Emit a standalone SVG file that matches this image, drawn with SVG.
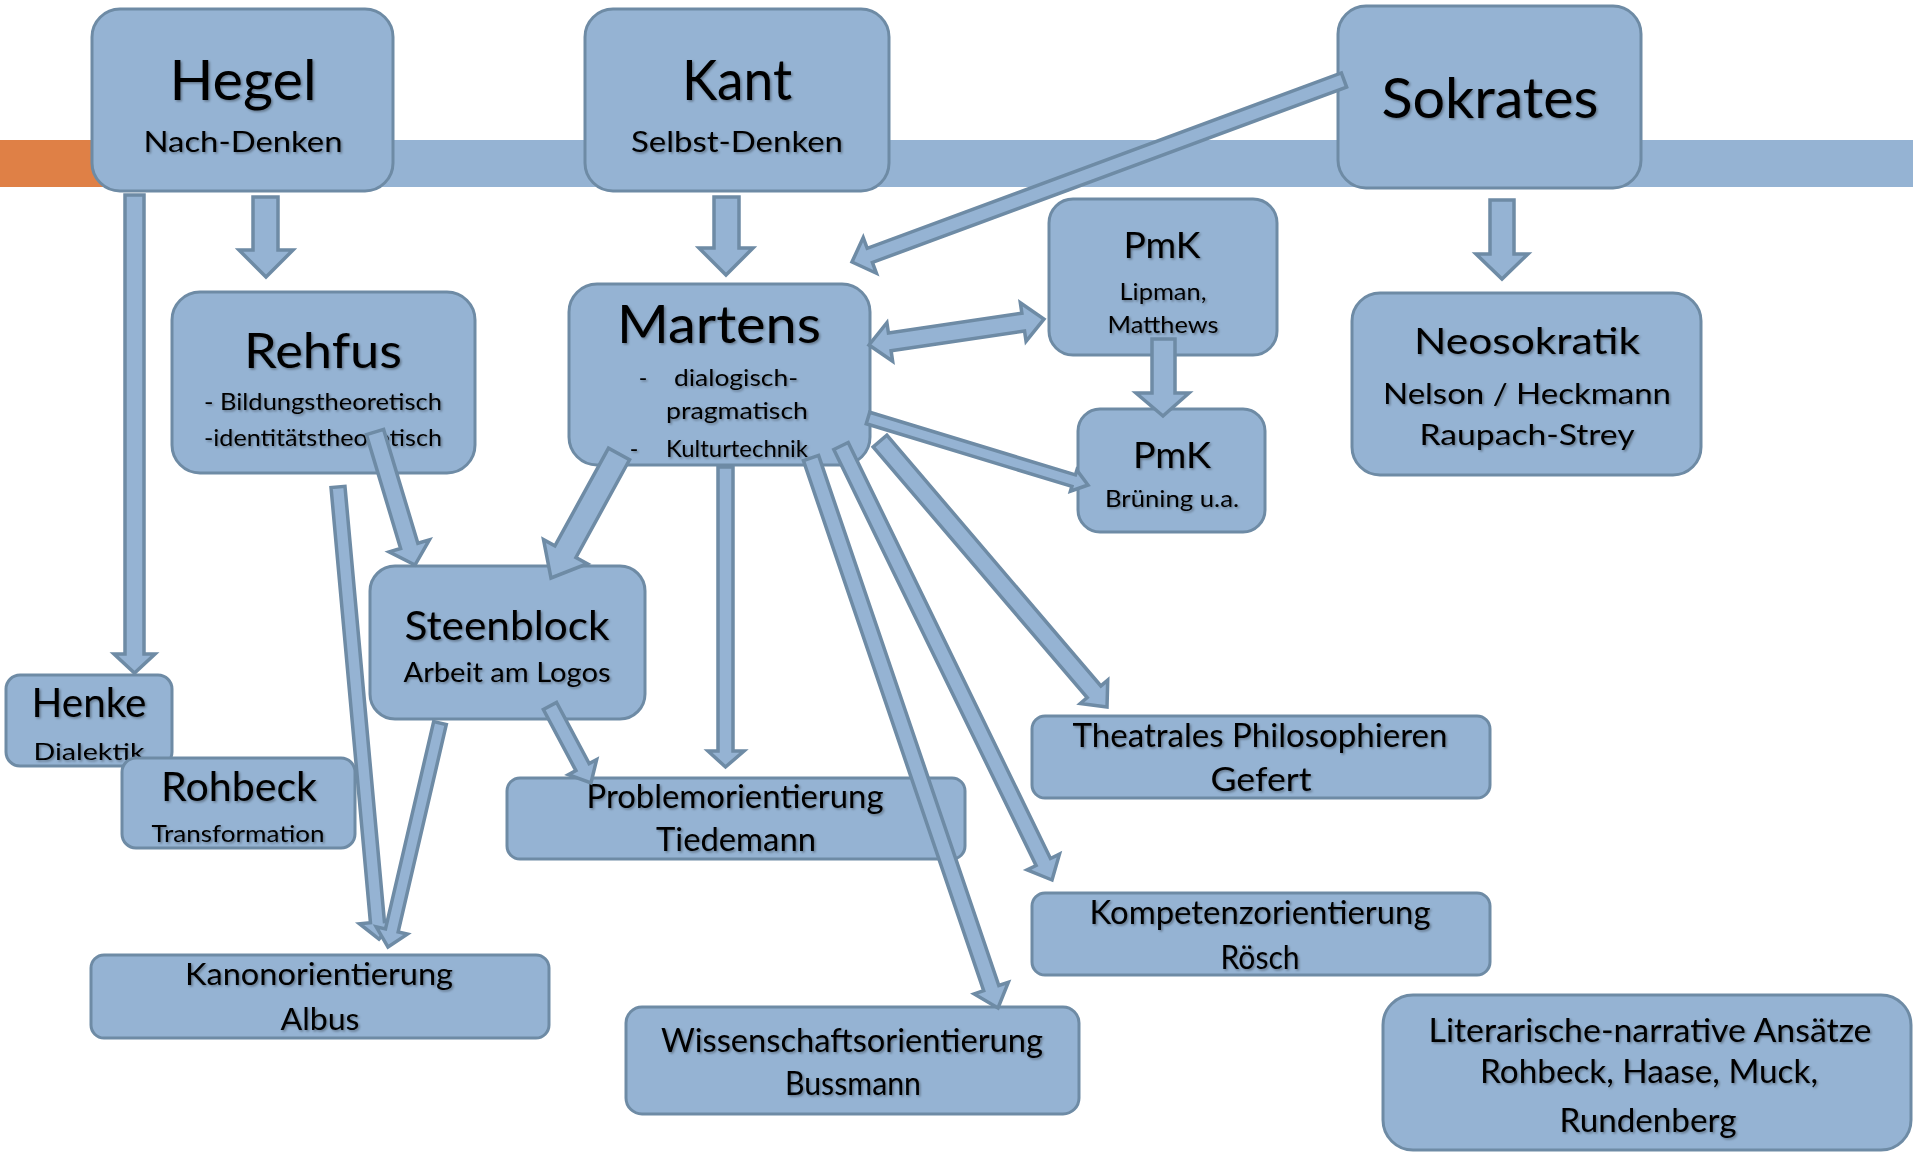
<svg xmlns="http://www.w3.org/2000/svg" width="1913" height="1152" viewBox="0 0 1913 1152">
<defs>
<filter id="ts" x="-10%" y="-30%" width="120%" height="160%">
<feDropShadow dx="1.5" dy="1.5" stdDeviation="0.8" flood-color="#000" flood-opacity="0.35"/>
</filter>
<style>
.box{fill:#95B3D3;stroke:#6E8BA5;stroke-width:3}
.arr{fill:#95B3D3;stroke:#6E8BA5;stroke-width:3.5;stroke-linejoin:miter}
text{font-family:Lato,"Liberation Sans",sans-serif;fill:#000;text-anchor:middle;filter:url(#ts)}
</style>
</defs>
<rect width="1913" height="1152" fill="#fff"/>
<g id="band">
<rect x="0" y="140" width="110" height="47" fill="#DF8046"/>
<rect x="110" y="140" width="1803" height="47" fill="#95B3D3"/>
</g>
<g id="nodes">
<g id="hegel"><rect class="box" x="92" y="9" width="301" height="182" rx="28"/>
<text x="243" y="100" font-size="56" textLength="147" lengthAdjust="spacingAndGlyphs">Hegel</text>
<text x="243" y="152" font-size="28" textLength="199" lengthAdjust="spacingAndGlyphs">Nach-Denken</text></g>
<g id="kant"><rect class="box" x="585" y="9" width="304" height="182" rx="28"/>
<text x="737" y="100" font-size="56" textLength="110" lengthAdjust="spacingAndGlyphs">Kant</text>
<text x="737" y="152" font-size="28" textLength="212" lengthAdjust="spacingAndGlyphs">Selbst-Denken</text></g>
<g id="sokrates"><rect class="box" x="1338" y="6" width="303" height="182" rx="28"/>
<text x="1490" y="118" font-size="57" textLength="217" lengthAdjust="spacingAndGlyphs">Sokrates</text></g>
<g id="rehfus"><rect class="box" x="172" y="292" width="303" height="181" rx="28"/>
<text x="323" y="368" font-size="49" textLength="158" lengthAdjust="spacingAndGlyphs">Rehfus</text>
<text x="323" y="410" font-size="23" textLength="238" lengthAdjust="spacingAndGlyphs">- Bildungstheoretisch</text>
<text x="323" y="446" font-size="23" textLength="238" lengthAdjust="spacingAndGlyphs">-identitätstheoretisch</text></g>
<g id="martens"><rect class="box" x="569" y="284" width="301" height="181" rx="28"/>
<text x="719" y="343" font-size="53" textLength="204" lengthAdjust="spacingAndGlyphs">Martens</text>
<text x="643" y="386" font-size="23">-</text>
<text x="736" y="386" font-size="23" textLength="124" lengthAdjust="spacingAndGlyphs">dialogisch-</text>
<text x="737" y="419" font-size="23" textLength="142" lengthAdjust="spacingAndGlyphs">pragmatisch</text>
<text x="634" y="457" font-size="23">-</text>
<text x="737" y="457" font-size="23" textLength="142" lengthAdjust="spacingAndGlyphs">Kulturtechnik</text></g>
<g id="pmk1"><rect class="box" x="1049" y="199" width="228" height="156" rx="24"/>
<text x="1162" y="258" font-size="36" textLength="77" lengthAdjust="spacingAndGlyphs">PmK</text>
<text x="1163" y="300" font-size="24" textLength="87" lengthAdjust="spacingAndGlyphs">Lipman,</text>
<text x="1163" y="333" font-size="24" textLength="111" lengthAdjust="spacingAndGlyphs">Matthews</text></g>
<g id="pmk2"><rect class="box" x="1078" y="409" width="187" height="123" rx="22"/>
<text x="1172" y="468" font-size="36" textLength="78" lengthAdjust="spacingAndGlyphs">PmK</text>
<text x="1172" y="507" font-size="24" textLength="134" lengthAdjust="spacingAndGlyphs">Brüning u.a.</text></g>
<g id="neosokratik"><rect class="box" x="1352" y="293" width="349" height="182" rx="28"/>
<text x="1527" y="354" font-size="36" textLength="226" lengthAdjust="spacingAndGlyphs">Neosokratik</text>
<text x="1527" y="404" font-size="29" textLength="288" lengthAdjust="spacingAndGlyphs">Nelson / Heckmann</text>
<text x="1527" y="445" font-size="29" textLength="215" lengthAdjust="spacingAndGlyphs">Raupach-Strey</text></g>
<g id="henke"><rect class="box" x="6" y="675" width="166" height="91" rx="14"/>
<text x="89" y="717" font-size="40" textLength="115" lengthAdjust="spacingAndGlyphs">Henke</text>
<text x="89" y="760" font-size="24" textLength="111" lengthAdjust="spacingAndGlyphs">Dialektik</text></g>
<g id="rohbeck"><rect class="box" x="122" y="758" width="233" height="90" rx="14"/>
<text x="239" y="801" font-size="40" textLength="156" lengthAdjust="spacingAndGlyphs">Rohbeck</text>
<text x="238" y="842" font-size="24" textLength="173" lengthAdjust="spacingAndGlyphs">Transformation</text></g>
<g id="steenblock"><rect class="box" x="370" y="566" width="275" height="153" rx="25"/>
<text x="507" y="640" font-size="41" textLength="205" lengthAdjust="spacingAndGlyphs">Steenblock</text>
<text x="507" y="682" font-size="26" textLength="207" lengthAdjust="spacingAndGlyphs">Arbeit am Logos</text></g>
<g id="kanon"><rect class="box" x="91" y="955" width="458" height="83" rx="13"/>
<text x="319" y="985" font-size="31" textLength="268" lengthAdjust="spacingAndGlyphs">Kanonorientierung</text>
<text x="320" y="1030" font-size="31" textLength="79" lengthAdjust="spacingAndGlyphs">Albus</text></g>
<g id="problem"><rect class="box" x="507" y="778" width="458" height="81" rx="13"/>
<text x="735" y="808" font-size="32" textLength="297" lengthAdjust="spacingAndGlyphs">Problemorientierung</text>
<text x="736" y="851" font-size="32" textLength="160" lengthAdjust="spacingAndGlyphs">Tiedemann</text></g>
<g id="wissenschaft"><rect class="box" x="626" y="1007" width="453" height="107" rx="16"/>
<text x="852" y="1052" font-size="32" textLength="382" lengthAdjust="spacingAndGlyphs">Wissenschaftsorientierung</text>
<text x="853" y="1095" font-size="32" textLength="136" lengthAdjust="spacingAndGlyphs">Bussmann</text></g>
<g id="theatrales"><rect class="box" x="1032" y="716" width="458" height="82" rx="13"/>
<text x="1260" y="747" font-size="32" textLength="375" lengthAdjust="spacingAndGlyphs">Theatrales Philosophieren</text>
<text x="1261" y="791" font-size="32" textLength="101" lengthAdjust="spacingAndGlyphs">Gefert</text></g>
<g id="kompetenz"><rect class="box" x="1032" y="893" width="458" height="82" rx="13"/>
<text x="1260" y="924" font-size="32" textLength="341" lengthAdjust="spacingAndGlyphs">Kompetenzorientierung</text>
<text x="1260" y="969" font-size="32" textLength="79" lengthAdjust="spacingAndGlyphs">Rösch</text></g>
<g id="literarisch"><rect class="box" x="1383" y="995" width="528" height="155" rx="30"/>
<text x="1650" y="1042" font-size="32" textLength="443" lengthAdjust="spacingAndGlyphs">Literarische-narrative Ansätze</text>
<text x="1649" y="1083" font-size="32" textLength="338" lengthAdjust="spacingAndGlyphs">Rohbeck, Haase, Muck,</text>
<text x="1648" y="1132" font-size="32" textLength="177" lengthAdjust="spacingAndGlyphs">Rundenberg</text></g>
</g>
<g id="connectors">
<polygon class="arr" points="253,197 278,197 278,250 293,250 266,277 239,250 253,250"/>
<polygon class="arr" points="714,197 739,197 739,248 753,248 726,275 699,248 714,248"/>
<polygon class="arr" points="1490,200 1514,200 1514,254 1528,254 1502,279 1476,254 1490,254"/>
<polygon class="arr" points="1152,339 1175,339 1175,393 1189,393 1163,416 1136,393 1152,393"/>
<polygon class="arr" points="125,195 144,195 144,654 155,654 134.5,673 114,654 125,654"/>
<polygon class="arr" points="718,467 733,467 733,751 744,751 725.5,767 708,751 718,751"/>
<polygon class="arr" transform="translate(1344,80) rotate(159.7)" points="0,-7.5 505.6,-7.5 505.6,-19 524.6,0 505.6,19 505.6,7.5 0,7.5"/>
<polygon class="arr" transform="translate(869,345) rotate(-8.45)" points="0,0 21,-19.5 21,-9 155.9,-9 155.9,-19.5 176.9,0 155.9,19.5 155.9,9 21,9 21,19.5"/>
<polygon class="arr" transform="translate(868,418) rotate(16.94)" points="0,-6 215,-6 215,-11 230,0 215,11 215,6 0,6"/>
<polygon class="arr" transform="translate(619,454) rotate(118.74)" points="0,-12 111.4,-12 111.4,-25 141.4,0 111.4,25 111.4,12 0,12"/>
<polygon class="arr" transform="translate(375,432) rotate(73.26)" points="0,-9 118.9,-9 118.9,-21 138.9,0 118.9,21 118.9,9 0,9"/>
<polygon class="arr" transform="translate(338,487) rotate(84.82)" points="0,-7 436.9,-7 436.9,-18 453.9,0 436.9,18 436.9,7 0,7"/>
<polygon class="arr" transform="translate(440,723) rotate(103.07)" points="0,-6.5 213,-6.5 213,-16 230,0 213,16 213,6.5 0,6.5"/>
<polygon class="arr" transform="translate(550,706) rotate(61.97)" points="0,-7.5 69.2,-7.5 69.2,-16 87.2,0 69.2,16 69.2,7.5 0,7.5"/>
<polygon class="arr" transform="translate(811,458) rotate(71.22)" points="0,-8 559.9,-8 559.9,-18 580.9,0 559.9,18 559.9,8 0,8"/>
<polygon class="arr" transform="translate(841,446) rotate(64.07)" points="0,-8 462.6,-8 462.6,-18 482.6,0 462.6,18 462.6,8 0,8"/>
<polygon class="arr" transform="translate(880,441) rotate(49.52)" points="0,-9 329.7,-9 329.7,-18 349.7,0 329.7,18 329.7,9 0,9"/>
</g>
</svg>
